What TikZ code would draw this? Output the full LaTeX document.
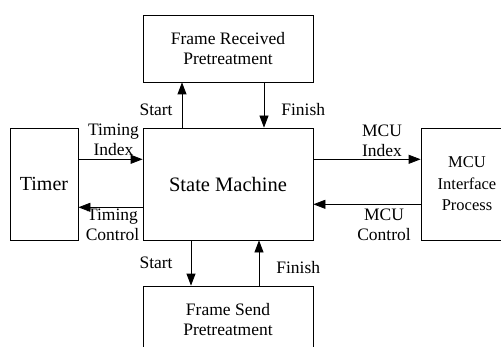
\documentclass[tikz,border=0pt]{standalone}
\usepackage{fontspec}
\setmainfont{Liberation Serif}
\usetikzlibrary{arrows.meta,positioning}

\begin{document}
\begin{tikzpicture}[->,>={Triangle[length=12pt,width=9pt]},x=1pt,y=1pt,line width=0.8pt]
  \tikzstyle{block}=[draw,align=center,inner sep=0pt,font=\fontsize{17.5}{20.5}\selectfont]
  \tikzstyle{lbl}=[align=center,inner sep=1pt,font=\fontsize{17.5}{20}\selectfont]
  \useasboundingbox (0,0) rectangle (501,346);

  \node[block,minimum width=170pt,minimum height=112pt,font=\fontsize{20.5}{24}\selectfont] (sm) at (228,162) {State Machine};
  \node[block,minimum width=170pt,minimum height=67pt] (recv) at (228,297.5) {Frame Received\\Pretreatment};
  \node[block,minimum width=170pt,minimum height=67pt] (send) at (228,26.5) {Frame Send\\Pretreatment};
  \node[block,minimum width=68pt,minimum height=112pt,font=\fontsize{20}{24}\selectfont] (timer) at (44,162) {Timer};
  \node[block,minimum width=92pt,minimum height=112pt,font=\fontsize{16.5}{21.5}\selectfont] (mcu) at (467,162) {MCU\\Interface\\Process};

  \draw ([xshift=-46pt]sm.north) -- ([xshift=-46pt]recv.south) node[lbl,pos=.4,left=8pt] {Start};
  \draw ([xshift=36pt]recv.south) -- ([xshift=36pt]sm.north) node[lbl,pos=.59,right=16pt] {Finish};
  \draw ([xshift=-37pt]sm.south) -- ([xshift=-37pt]send.north) node[lbl,pos=.5,left=17pt] {Start};
  \draw ([xshift=31pt]send.north) -- ([xshift=31pt]sm.south) node[lbl,pos=.41,right=16pt] {Finish};

  \draw ([yshift=24.7pt]timer.east) -- ([yshift=24.7pt]sm.west) node[lbl,midway,above=2pt,xshift=3pt] {Timing\\Index};
  \draw ([yshift=-23.3pt]sm.west) -- ([yshift=-23.3pt]timer.east) node[lbl,midway,below=0pt,xshift=2pt] {Timing\\Control};
  \draw ([yshift=24.7pt]sm.east) -- ([yshift=24.7pt]mcu.west) node[lbl,midway,above=1pt,xshift=15pt] {MCU\\Index};
  \draw ([yshift=-20.3pt]mcu.west) -- ([yshift=-20.3pt]sm.east) node[lbl,midway,below=3pt,xshift=17pt] {MCU\\Control};
\end{tikzpicture}
\end{document}
